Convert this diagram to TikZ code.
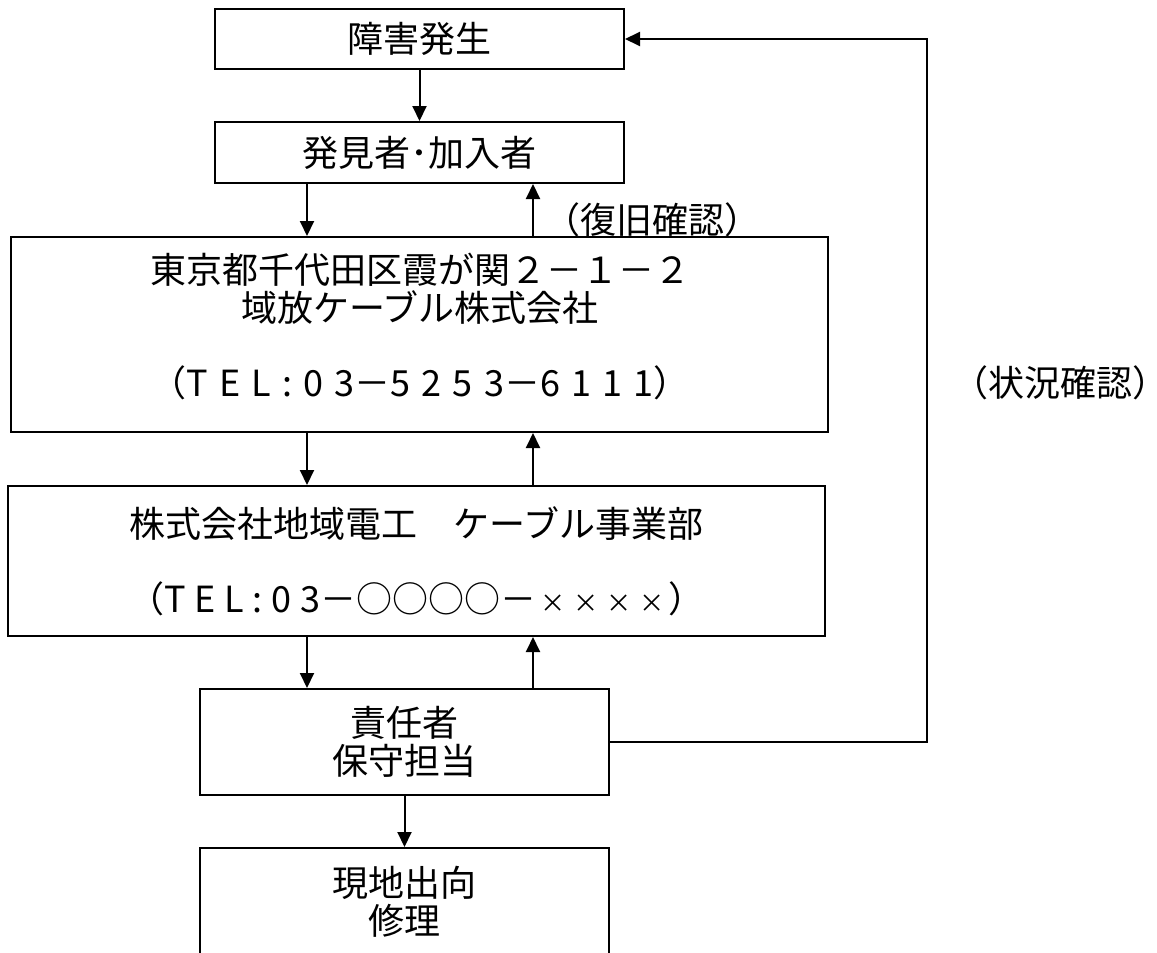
\documentclass[tikz,border=0pt]{standalone}
\usepackage{fontspec}
\usepackage{graphicx}
\setmainfont{Noto Sans CJK JP}
\newfontfamily\jpwide{Noto Sans CJK JP}[LetterSpace=24]
\newfontfamily\jpwider{Noto Sans CJK JP}[LetterSpace=31]
\usetikzlibrary{arrows.meta}
\newcommand\myfs{\fontsize{36pt}{37.5pt}\selectfont}
\newcommand\spc[1]{{\jpwide #1}}
\newcommand\spcc[1]{{\jpwider #1}}
\newcommand\smx{\makebox[33pt]{\scalebox{0.7}{×}}}
\newcommand\lpar{\makebox[18pt][r]{（}}
\newcommand\rpar{\makebox[18pt][l]{）}}
\begin{document}
\begin{tikzpicture}[x=1pt,y=-1pt,
  box/.style={draw, line width=2pt, inner sep=0pt, font=\myfs, align=center},
  txt/.style={inner sep=0pt, font=\myfs, align=center},
  lbl/.style={inner sep=0pt, font=\myfs},
  arr/.style={line width=2pt, -{Triangle[length=15pt,width=14pt]}}]
\useasboundingbox (0,0) rectangle (1157,953);
\clip (0,0) rectangle (1157,953);
\coordinate (xl) at (307,0);
\coordinate (xr) at (533,0);
\coordinate (xf) at (927,0);
\node[box, minimum width=409pt, minimum height=60pt] (b1) at (419.5,39) {障害発生};
\node[box, minimum width=409pt, minimum height=61pt] (b2) at (419.5,152.5) {発見者･加入者};
\node[box, minimum width=817pt, minimum height=195pt] (b3) at (419.5,334.5) {};
\node[txt] (t3) at (420,326.5) {東京都千代田区霞が関２－１－２\\域放ケーブル株式会社\\[37.5pt]（\spcc{TEL:03}－\spcc{5253}－\spcc{6111}）};
\node[box, minimum width=817pt, minimum height=150pt] (b4) at (416.5,561) {株式会社地域電工　ケーブル事業部\\[37.5pt]（\spc{TEL:03}－○○○○－\smx\smx\smx\smx）};
\node[box, minimum width=409pt, minimum height=106pt] (b5) at (404.5,742) {責任者\\保守担当};
\node[box, minimum width=409pt, minimum height=108pt] (b6) at (404.5,902) {現地出向\\修理};
\node[lbl] (l1) at (652,220) {\lpar 復旧確認\rpar};
\node[lbl] (l2) at (1060,383) {\lpar 状況確認\rpar};
\draw[arr] (b1.south) -- (b2.north);
\draw[arr] (b2.south -| xl) -- (b3.north -| xl);
\draw[arr] (b3.north -| xr) -- (b2.south -| xr);
\draw[arr] (b3.south -| xl) -- (b4.north -| xl);
\draw[arr] (b4.north -| xr) -- (b3.south -| xr);
\draw[arr] (b4.south -| xl) -- (b5.north -| xl);
\draw[arr] (b5.north -| xr) -- (b4.south -| xr);
\draw[arr] (b5.south) -- (b6.north);
\draw[arr] (b5.east) -- (b5.east -| xf) |- (b1.east);
\end{tikzpicture}
\end{document}
